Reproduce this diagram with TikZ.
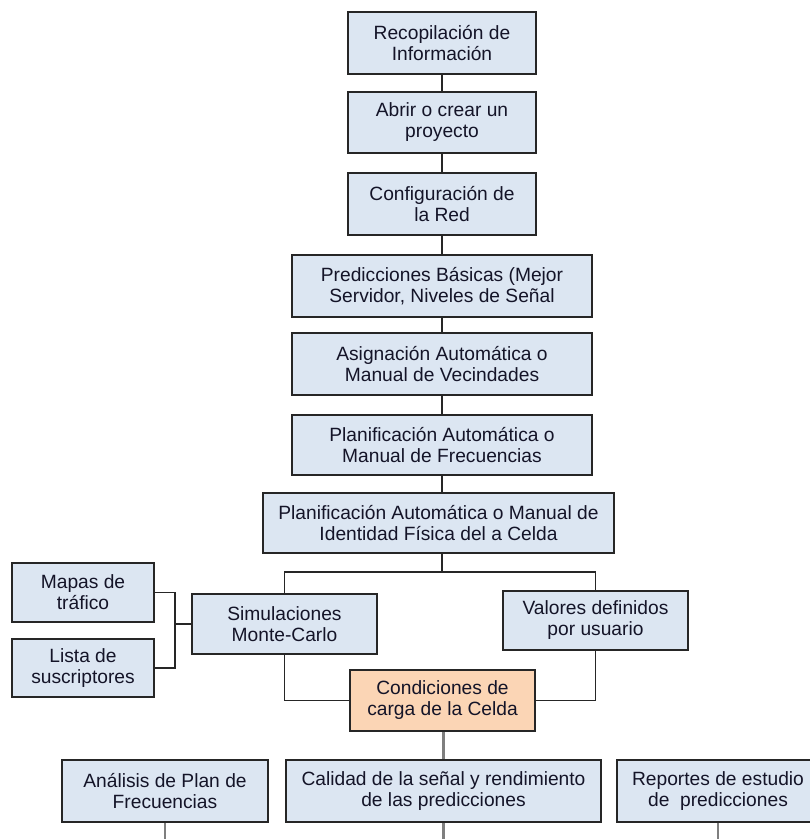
\documentclass[tikz,border=0pt]{standalone}
\usepackage{fontspec}
\setmainfont{Liberation Sans}
\definecolor{boxfill}{HTML}{DCE6F2}
\definecolor{orangefill}{HTML}{FBD5B5}
\definecolor{boxline}{HTML}{262626}
\definecolor{txt}{HTML}{141428}
\definecolor{grayline}{HTML}{7F7F7F}
\begin{document}
\begin{tikzpicture}[x=1pt,y=-1pt,
  box/.style={draw=boxline, fill=boxfill, line width=1.6pt, inner sep=0pt,
    align=center, text=txt, font=\fontsize{19.2}{21}\selectfont},
  obox/.style={box, fill=orangefill},
  link/.style={draw=boxline, line width=1.8pt},
  glink/.style={draw=grayline, line width=2.2pt}]
\useasboundingbox (0,0) rectangle (810,839);
\clip (0,0) rectangle (810,839);
% main column
\node[box, minimum width=188pt, minimum height=62pt] (n1) at (442,43) {Recopilación de\\Información};
\node[box, minimum width=188pt, minimum height=61pt] (n2) at (442,122.5) {Abrir o crear un\\proyecto};
\node[box, minimum width=188pt, minimum height=62pt] (n3) at (442,204) {Configuración de\\la Red};
\node[box, minimum width=300pt, minimum height=62pt] (n4) at (442,286) {Predicciones Básicas (Mejor\\Servidor, Niveles de Señal};
\node[box, minimum width=300pt, minimum height=62pt] (n5) at (442,364) {Asignación Automática o\\Manual de Vecindades};
\node[box, minimum width=300pt, minimum height=60pt] (n6) at (442,445) {Planificación Automática o\\Manual de Frecuencias};
\node[box, minimum width=351pt, minimum height=60pt] (n7) at (438.5,523) {Planificación Automática o Manual de\\Identidad Física del a Celda};
% middle level
\node[box, minimum width=142pt, minimum height=59pt] (mapas) at (83,592.5) {Mapas de\\tráfico};
\node[box, minimum width=142pt, minimum height=58pt] (lista) at (83,668) {Lista de\\suscriptores};
\node[box, minimum width=185pt, minimum height=60pt] (sim) at (284.5,624) {Simulaciones\\Monte-Carlo};
\node[box, minimum width=185pt, minimum height=59pt] (val) at (595.5,620.5) {Valores definidos\\por usuario};
\node[obox, minimum width=185pt, minimum height=61pt] (cond) at (442.5,700.5) {Condiciones de\\carga de la Celda};
% bottom row
\node[box, minimum width=206pt, minimum height=62pt] (anal) at (165,791) {Análisis de Plan de\\Frecuencias};
\node[box, minimum width=315pt, minimum height=62pt] (cal) at (443.5,791) {Calidad de la señal y rendimiento\\de las predicciones};
\node[box, minimum width=202pt, minimum height=62pt] (rep) at (718,791) {Reportes de estudio\\de\ \ predicciones};
% connectors main column
\draw[link] (n1.south) -- (n2.north);
\draw[link] (n2.south) -- (n3.north);
\draw[link] (n3.south) -- (n4.north);
\draw[link] (n4.south) -- (n5.north);
\draw[link] (n5.south) -- (n6.north);
\draw[link] (n6.south) -- (n6.south |- n7.north);
\coordinate (j1) at (442,572);
\draw[link] (n7.south -| j1) -- (j1);
\draw[link] (sim.north) |- (j1) -| (val.north);
\draw[link] (sim.south) |- (cond.west);
\draw[link] (val.south) |- (cond.east);
% bracket
\coordinate (bx) at (175,0);
\draw[link] (mapas.east) -| (bx |- lista.east) -- (lista.east);
\draw[link] (bx |- sim.west) -- (sim.west);
% gray connectors
\draw[glink] (cond.south -| cal.north) -- (cal.north);
\coordinate (e1) at (165,842);
\coordinate (e2) at (443.5,842);
\coordinate (e3) at (718,842);
\draw[glink] (anal.south) -- (e1);
\draw[glink] (cal.south) -- (e2);
\draw[glink] (rep.south) -- (e3);
\end{tikzpicture}
\end{document}
